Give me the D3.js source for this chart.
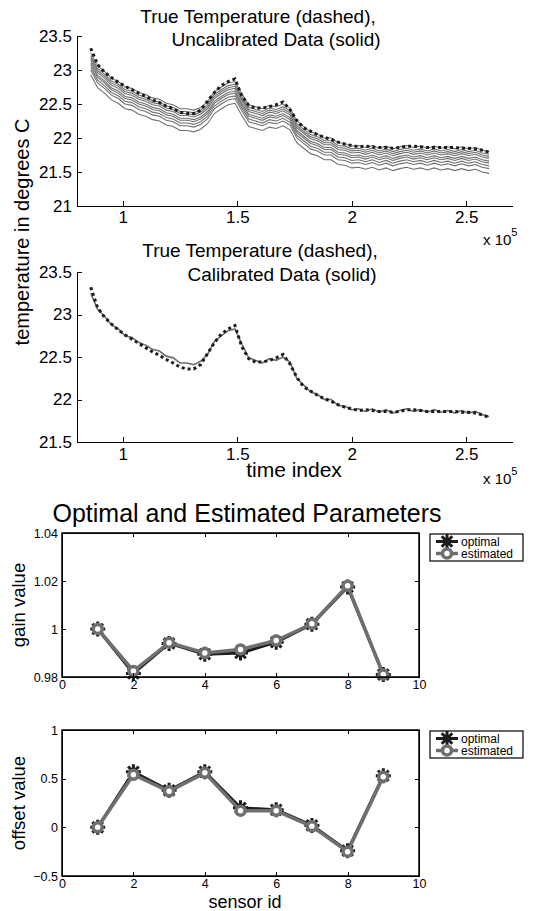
<!DOCTYPE html>
<html lang="en">
<head>
  <meta charset="UTF-8">
  <title>sensor calibration</title>
  <script src="https://d3js.org/d3.v7.min.js"></script>
  <style>
  body {
    margin: 0;
    background: #fff;
  }
  text {
    font-family: "Liberation Sans", Arial, Helvetica, sans-serif;
    fill: #000;
  }
  .axis path,
  .axis line {
    fill: none;
    stroke: #000;
    shape-rendering: crispEdges;
  }
  .big .tick text { font-size: 17px; }
  .small .tick text { font-size: 12.5px; }
  </style>
</head>
<body>
  <div class="container"></div>
  <script>
  // time index (samples) and temperatures
  var timeIdx = [86000, 89000, 92000, 95000, 98000, 101000, 104000, 107000, 110000, 113000,
                 116000, 119000, 122000, 125000, 128000, 131000, 134000, 137000, 140000, 143000,
                 146000, 149000, 152000, 155000, 158000, 161000, 164000, 167000, 170000, 173000,
                 176000, 179000, 182000, 185000, 188000, 191000, 194000, 197000, 200000, 203000,
                 206000, 209000, 212000, 215000, 218000, 221000, 224000, 227000, 230000, 233000,
                 236000, 239000, 242000, 245000, 248000, 251000, 254000, 257000, 260000];
  var trueTemp = [23.32, 23.08, 22.97, 22.89, 22.82, 22.76, 22.71, 22.66, 22.61, 22.56,
                  22.52, 22.47, 22.43, 22.38, 22.36, 22.36, 22.41, 22.54, 22.67, 22.77,
                  22.83, 22.87, 22.62, 22.48, 22.44, 22.44, 22.46, 22.49, 22.53, 22.42,
                  22.26, 22.15, 22.10, 22.05, 22.01, 21.98, 21.94, 21.91, 21.89, 21.87,
                  21.88, 21.87, 21.86, 21.86, 21.85, 21.86, 21.88, 21.88, 21.87, 21.86,
                  21.86, 21.86, 21.86, 21.86, 21.85, 21.85, 21.84, 21.82, 21.79];
  var calibTemp = [23.25, 23.06, 22.98, 22.88, 22.83, 22.75, 22.73, 22.67, 22.64, 22.59,
                   22.57, 22.51, 22.49, 22.43, 22.43, 22.41, 22.45, 22.53, 22.68, 22.75,
                   22.81, 22.83, 22.65, 22.49, 22.46, 22.43, 22.48, 22.46, 22.50, 22.44,
                   22.25, 22.17, 22.09, 22.06, 22.00, 22.00, 21.93, 21.92, 21.88, 21.89,
                   21.86, 21.89, 21.85, 21.88, 21.84, 21.87, 21.89, 21.86, 21.88, 21.85,
                   21.88, 21.85, 21.87, 21.84, 21.87, 21.84, 21.86, 21.82, 21.80];
  // how far each uncalibrated sensor sits below the calibrated trace
  var rawShift = [0, 0.04, 0.07, 0.10, 0.14, 0.17, 0.21, 0.25, 0.32];

  var sensorIds = [1, 2, 3, 4, 5, 6, 7, 8, 9];
  var gainOptimal   = [1.000, 0.9815, 0.994, 0.9895, 0.990, 0.9945, 1.002, 1.0175, 0.981];
  var gainEstimated = [1.000, 0.9825, 0.9943, 0.990, 0.9915, 0.9952, 1.0022, 1.018, 0.981];
  var offsetOptimal   = [0.00, 0.57, 0.38, 0.57, 0.20, 0.18, 0.02, -0.24, 0.53];
  var offsetEstimated = [0.00, 0.54, 0.37, 0.56, 0.17, 0.17, 0.01, -0.25, 0.52];

  var tempTicksTop = [21, 21.5, 22, 22.5, 23, 23.5];
  var tempTicksBot = [21.5, 22, 22.5, 23, 23.5];
  var timeTicks = [100000, 150000, 200000, 250000];
  var gainTicks = [0.98, 1, 1.02, 1.04];
  var offsetTicks = [-0.5, 0, 0.5, 1];
  var sensorTicks = [0, 2, 4, 6, 8, 10];

  var W = 536, H = 911;
  var gray = "#6f6f6f", dark = "#1c1c1c";
  var plain = function(d) { return String(d).replace('-', '\u2212'); };

  var svg = d3.select('.container').append('svg')
      .attr('width', W).attr('height', H);

  var xTime = d3.scaleLinear().domain([80000, 270000]).range([77, 512]);

  function tempPanel(top, bottom, domain, ticks, series, lw, title, showLabel) {
    var y = d3.scaleLinear().domain(domain).range([bottom, top]);
    var g = svg.append('g');
    var line = d3.line()
        .x(function(d, i) { return xTime(timeIdx[i]); })
        .y(function(d) { return y(d); });
    series.forEach(function(s) {
      g.append('path').attr('d', line(s)).attr('fill', 'none')
        .attr('stroke', gray).attr('stroke-width', lw);
    });
    g.append('path').attr('d', line(trueTemp)).attr('fill', 'none')
      .attr('stroke', dark).attr('stroke-width', 3)
      .attr('stroke-dasharray', '3,3');

    g.append('g').attr('class', 'axis big')
      .attr('transform', 'translate(77,0)')
      .call(d3.axisLeft(y).tickValues(ticks).tickSizeInner(-5).tickSizeOuter(0)
        .tickPadding(5).tickFormat(plain));
    g.append('g').attr('class', 'axis big')
      .attr('transform', 'translate(0,' + bottom + ')')
      .call(d3.axisBottom(xTime).tickValues(timeTicks).tickSizeInner(-5).tickSizeOuter(0)
        .tickPadding(showLabel ? 6 : 5)
        .tickFormat(function(d) { return d / 1e5; }));

    title.forEach(function(t) {
      svg.append('text').attr('x', t.x).attr('y', t.y).attr('text-anchor', 'middle')
        .style('font-size', '19px').text(t.s);
    });
    var e = svg.append('text').attr('x', 483).attr('y', bottom + (showLabel ? 42 : 39))
      .style('font-size', '15px');
    e.append('tspan').text('x 10');
    e.append('tspan').attr('dy', -9).style('font-size', '11px').text('5');
  }

  var rawSeries = rawShift.map(function(s) {
    return calibTemp.map(function(v) { return v - s; });
  });

  tempPanel(36, 206, [21, 23.5], tempTicksTop, rawSeries, 1.1,
    [{s: 'True Temperature (dashed),', x: 258, y: 23},
     {s: 'Uncalibrated Data (solid)', x: 276, y: 46}], false);
  tempPanel(272, 442, [21.5, 23.5], tempTicksBot, [calibTemp], 1.6,
    [{s: 'True Temperature (dashed),', x: 260, y: 257},
     {s: 'Calibrated Data (solid)', x: 282, y: 281}], true);

  svg.append('text').attr('transform', 'translate(29,232) rotate(-90)')
    .attr('text-anchor', 'middle').style('font-size', '20px')
    .text('temperature in degrees C');
  svg.append('text').attr('x', 294).attr('y', 477).attr('text-anchor', 'middle')
    .style('font-size', '21px').text('time index');

  // parameter panels
  var xSensor = d3.scaleLinear().domain([0, 10]).range([62, 419]);
  var starPath = 'M-7.5,0H7.5M0,-7.5V7.5M-5.3,-5.3L5.3,5.3M-5.3,5.3L5.3,-5.3';

  function paramPanel(top, bottom, domain, ticks, optimal, estimated, yLabel) {
    var y = d3.scaleLinear().domain(domain).range([bottom, top]);
    var g = svg.append('g');
    var line = d3.line()
        .x(function(d, i) { return xSensor(sensorIds[i]); })
        .y(function(d) { return y(d); });

    g.append('path').attr('d', line(optimal)).attr('fill', 'none')
      .attr('stroke', dark).attr('stroke-width', 3);
    g.selectAll('.star').data(optimal).enter().append('path')
      .attr('transform', function(d, i) { return 'translate(' + xSensor(sensorIds[i]) + ',' + y(d) + ')'; })
      .attr('d', starPath).attr('stroke', dark).attr('stroke-width', 3);
    g.append('path').attr('d', line(estimated)).attr('fill', 'none')
      .attr('stroke', gray).attr('stroke-width', 3.5);
    g.selectAll('.circ').data(estimated).enter().append('circle')
      .attr('cx', function(d, i) { return xSensor(sensorIds[i]); })
      .attr('cy', function(d) { return y(d); })
      .attr('r', 4.5).attr('fill', '#fff').attr('stroke', gray).attr('stroke-width', 3.5);

    g.append('g').attr('class', 'axis small')
      .attr('transform', 'translate(62,0)')
      .call(d3.axisLeft(y).tickValues(ticks).tickSizeInner(-4).tickSizeOuter(0)
        .tickPadding(4).tickFormat(plain));
    g.append('g').attr('class', 'axis small')
      .attr('transform', 'translate(419,0)')
      .call(d3.axisRight(y).tickValues(ticks).tickSizeInner(-4).tickSizeOuter(0).tickFormat(''));
    g.append('g').attr('class', 'axis small')
      .attr('transform', 'translate(0,' + bottom + ')')
      .call(d3.axisBottom(xSensor).tickValues(sensorTicks).tickSizeInner(-4).tickSizeOuter(0)
        .tickPadding(3).tickFormat(plain));
    g.append('g').attr('class', 'axis small')
      .attr('transform', 'translate(0,' + top + ')')
      .call(d3.axisTop(xSensor).tickValues(sensorTicks).tickSizeInner(-4).tickSizeOuter(0).tickFormat(''));
    g.append('rect').attr('x', 62).attr('y', top).attr('width', 357).attr('height', bottom - top)
      .attr('fill', 'none').attr('stroke', '#000').attr('stroke-width', 1.5);

    svg.append('text').attr('transform', 'translate(25,' + (top + bottom) / 2 + ') rotate(-90)')
      .attr('text-anchor', 'middle').style('font-size', '18.5px').text(yLabel);

    // legend
    var lg = svg.append('g').attr('transform', 'translate(430,' + (top + 1) + ')');
    lg.append('rect').attr('width', 93).attr('height', 27)
      .attr('fill', '#fff').attr('stroke', '#000').attr('stroke-width', 1.2);
    lg.append('path').attr('d', 'M6,7.5H28').attr('stroke', dark).attr('stroke-width', 3);
    lg.append('path').attr('transform', 'translate(17,7.5)').attr('d', starPath)
      .attr('stroke', dark).attr('stroke-width', 3);
    lg.append('text').attr('x', 31).attr('y', 11.5).style('font-size', '12px').text('optimal');
    lg.append('path').attr('d', 'M6,19.5H28').attr('stroke', gray).attr('stroke-width', 3.5);
    lg.append('circle').attr('cx', 17).attr('cy', 19.5).attr('r', 4.5)
      .attr('fill', '#fff').attr('stroke', gray).attr('stroke-width', 3.5);
    lg.append('text').attr('x', 31).attr('y', 24).style('font-size', '12px').text('estimated');
  }

  svg.append('text').attr('x', 247).attr('y', 522).attr('text-anchor', 'middle')
    .style('font-size', '25px').text('Optimal and Estimated Parameters');

  paramPanel(533, 677, [0.98, 1.04], gainTicks, gainOptimal, gainEstimated, 'gain value');
  paramPanel(730, 876, [-0.5, 1], offsetTicks, offsetOptimal, offsetEstimated, 'offset value');

  svg.append('text').attr('x', 245).attr('y', 908).attr('text-anchor', 'middle')
    .style('font-size', '18px').text('sensor id');
  </script>
</body>
</html>
